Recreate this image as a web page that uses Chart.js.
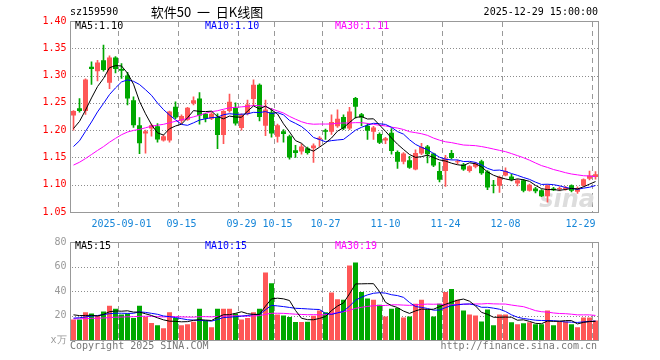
<!DOCTYPE html>
<html>
<head>
<meta charset="utf-8">
<script src="https://cdn.jsdelivr.net/npm/chart.js@4.4.1/dist/chart.umd.min.js"></script>
<style>
  html, body { margin: 0; padding: 0; background: #fff; }
  #wrap { position: relative; width: 660px; height: 360px; }
  #kCanvas { position: absolute; left: 0; top: 0; z-index: 1; }
  #vCanvas { position: absolute; left: 0; top: 232px; z-index: 1; }
  .gridline { position: absolute; z-index: 0; }
</style>
</head>
<body>
<div id="wrap">
  <canvas id="kCanvas" width="660" height="232"></canvas>
  <canvas id="vCanvas" width="660" height="128"></canvas>
</div>
<script>
// 交易日（2025）
const dates = ['08-20','08-21','08-22','08-25','08-26','08-27','08-28','08-29',
  '09-01','09-02','09-03','09-04','09-05','09-08','09-09','09-10','09-11','09-12',
  '09-15','09-16','09-17','09-18','09-19','09-22','09-23','09-24','09-25','09-26','09-29','09-30',
  '10-09','10-10','10-13','10-14','10-15','10-16','10-17','10-20','10-21','10-22','10-23','10-24',
  '10-27','10-28','10-29','10-30','10-31',
  '11-03','11-04','11-05','11-06','11-07','11-10','11-11','11-12','11-13','11-14','11-17','11-18',
  '11-19','11-20','11-21','11-24','11-25','11-26','11-27','11-28',
  '12-01','12-02','12-03','12-04','12-05','12-08','12-09','12-10','12-11','12-12','12-15','12-16',
  '12-17','12-18','12-19','12-22','12-23','12-24','12-25','12-26','12-29'];

// 日期刻度
const xTickDates = ['09-01','09-15','09-29','10-15','10-27','11-10','11-24','12-08','12-29'];
const xTickText  = ['2025-09-01','09-15','09-29','10-15','10-27','11-10','11-24','12-08','12-29'];

const opens = [1.227,1.240,1.235,1.316,1.308,1.328,1.287,1.333,1.312,1.300,
  1.255,1.209,1.194,1.203,1.207,1.181,1.181,1.243,1.217,1.219,
  1.249,1.258,1.230,1.221,1.224,1.191,1.235,1.241,1.204,1.230,
  1.257,1.283,1.208,1.233,1.188,1.198,1.189,1.163,1.161,1.167,
  1.167,1.183,1.200,1.197,1.207,1.224,1.203,1.259,1.229,1.208,
  1.197,1.193,1.181,1.195,1.160,1.142,1.145,1.128,1.157,1.170,
  1.157,1.125,1.125,1.158,1.141,1.137,1.125,1.133,1.143,1.124,
  1.100,1.098,1.117,1.115,1.102,1.108,1.089,1.093,1.090,1.079,
  1.093,1.092,1.092,1.099,1.087,1.098,1.111,1.114];
const highs = [1.236,1.258,1.294,1.325,1.328,1.356,1.336,1.335,1.322,1.306,
  1.261,1.223,1.200,1.211,1.212,1.191,1.235,1.252,1.228,1.242,
  1.261,1.269,1.231,1.232,1.230,1.236,1.266,1.250,1.230,1.255,
  1.292,1.285,1.255,1.240,1.211,1.201,1.191,1.172,1.175,1.169,
  1.175,1.188,1.202,1.228,1.237,1.228,1.242,1.260,1.231,1.212,
  1.207,1.195,1.187,1.203,1.162,1.159,1.152,1.164,1.176,1.172,
  1.158,1.141,1.154,1.163,1.145,1.139,1.135,1.141,1.145,1.126,
  1.108,1.116,1.131,1.119,1.110,1.110,1.101,1.095,1.091,1.100,
  1.095,1.096,1.097,1.100,1.096,1.111,1.125,1.124];
const lows = [1.200,1.233,1.229,1.284,1.290,1.308,1.276,1.305,1.295,1.246,
  1.205,1.157,1.158,1.189,1.178,1.180,1.178,1.221,1.213,1.218,
  1.246,1.211,1.215,1.219,1.166,1.175,1.233,1.209,1.200,1.228,
  1.246,1.217,1.190,1.187,1.178,1.178,1.147,1.150,1.156,1.156,
  1.141,1.170,1.183,1.192,1.205,1.201,1.201,1.222,1.208,1.183,
  1.183,1.175,1.175,1.156,1.130,1.138,1.130,1.127,1.155,1.140,
  1.133,1.105,1.097,1.147,1.138,1.126,1.123,1.131,1.119,1.091,
  1.085,1.086,1.116,1.107,1.098,1.087,1.088,1.085,1.078,1.068,
  1.089,1.089,1.090,1.087,1.084,1.097,1.109,1.110];
const closes = [1.235,1.235,1.293,1.312,1.324,1.310,1.333,1.312,1.309,1.258,
  1.209,1.176,1.198,1.209,1.183,1.189,1.234,1.223,1.226,1.241,
  1.255,1.227,1.221,1.230,1.191,1.235,1.252,1.212,1.228,1.247,
  1.283,1.224,1.238,1.194,1.209,1.193,1.150,1.158,1.170,1.158,
  1.172,1.186,1.197,1.215,1.221,1.203,1.234,1.243,1.223,1.199,
  1.205,1.177,1.185,1.162,1.142,1.157,1.131,1.158,1.169,1.156,
  1.135,1.109,1.148,1.149,1.142,1.128,1.134,1.139,1.121,1.095,
  1.098,1.114,1.125,1.109,1.108,1.089,1.100,1.088,1.079,1.099,
  1.090,1.093,1.095,1.089,1.094,1.110,1.117,1.119];
// 成交量（万手）
const volumes = [16.8,16.8,22.7,21.6,20.0,23.2,28.0,25.6,20.8,21.6,
  17.9,28.0,18.7,13.9,12.0,9.6,22.7,17.9,12.0,12.8,
  14.9,25.6,16.0,10.4,25.6,25.6,25.6,21.6,16.8,17.9,
  22.7,25.6,55.2,46.4,20.8,20.0,18.7,14.7,14.7,14.9,
  19.7,24.0,22.7,38.7,33.3,32.8,60.8,63.2,39.2,33.9,
  32.8,28.8,19.2,25.6,26.1,18.4,19.2,29.6,32.8,24.8,
  19.2,29.6,39.2,41.6,32.8,24.0,20.8,20.0,15.2,24.8,
  12.0,20.8,20.8,14.4,12.8,13.6,14.4,12.8,12.8,24.0,
  12.0,15.2,15.2,12.8,10.4,18.4,18.4,16.0];

// 窗口之前的29个交易日（估计值，仅用于均线起点）
const priorCloses = [1.08,1.09,1.09,1.10,1.10,1.09,1.10,1.11,1.11,1.12,
  1.12,1.11,1.12,1.13,1.14,1.15,1.14,1.15,1.16,1.17,
  1.13,1.12,1.14,1.14,1.155,1.17,1.19,1.20,1.22];
const priorVolumes = [16,18,15,17,19,16,18,17,15,16,18,17,16,19,18,17,16,18,17,17,
  14,16,15,15,16,20,22,21,23];

const MONO = '"DejaVu Sans Mono", monospace';
const RED = '#ff5757';
const GREEN = '#00a800';
const candleColors = closes.map((c, i) => c >= opens[i] ? RED : GREEN);

function movingAvg(prior, values, n) {
  const all = prior.concat(values);
  const k = prior.length;
  return values.map((v, i) => {
    let s = 0;
    for (let j = k + i - n + 1; j <= k + i; j++) s += all[j];
    return s / n;
  });
}

const tickMap = {};
xTickDates.forEach((d, j) => { tickMap[d] = xTickText[j]; });

function text(ctx, str, x, y, font, color, align) {
  ctx.save();
  ctx.font = font;
  ctx.fillStyle = color;
  ctx.textAlign = align || 'left';
  ctx.textBaseline = 'middle';
  ctx.fillText(str, x, y);
  ctx.restore();
}

// 网格线放在画布后面的一层 div 里，位置取自图表的坐标轴
function addLine(x, y, w, h, bg) {
  const wrap = document.getElementById('wrap');
  const el = document.createElement('div');
  el.className = 'gridline';
  el.style.left = x + 'px';
  el.style.top = y + 'px';
  el.style.width = w + 'px';
  el.style.height = h + 'px';
  el.style.background = bg;
  wrap.insertBefore(el, wrap.firstChild);
}

function addGrid(chart, offsetTop) {
  const a = chart.chartArea, ys = chart.scales.y;
  const left = Math.floor(a.left), right = Math.floor(a.right);
  const top = Math.floor(a.top), bottom = Math.floor(a.bottom);
  ys.ticks.forEach(t => {
    const y = Math.round(ys.getPixelForValue(t.value));
    if (y <= top + 1 || y >= bottom - 1) return;
    addLine(left + 2, offsetTop + y, right - left - 2, 1,
      'repeating-linear-gradient(to right, #8c8c8c 0px, #8c8c8c 1px, transparent 1px, transparent 3px)');
  });
  const step = (a.right - a.left) / dates.length;
  dates.forEach((d, i) => {
    if (!tickMap[d]) return;
    const x = Math.floor(a.left + step * i);
    addLine(x, offsetTop + top + 1, 1, bottom - top - 1,
      'repeating-linear-gradient(to bottom, #999999 0px, #999999 5px, transparent 5px, transparent 9px)');
  });
}

// 外框
function drawFrame(chart) {
  const a = chart.chartArea, c = chart.ctx;
  c.save();
  c.strokeStyle = '#999999';
  c.lineWidth = 1;
  c.strokeRect(Math.floor(a.left) + 0.5, Math.floor(a.top) + 0.5,
    Math.round(a.right - a.left), Math.round(a.bottom - a.top));
  c.restore();
}

function maLine(data, color) {
  return { type: 'line', data: data, borderColor: color, borderWidth: 1,
    pointRadius: 0, tension: 0, order: 0 };
}

// K线图
const kChart = new Chart(document.getElementById('kCanvas').getContext('2d'), {
  type: 'bar',
  data: {
    labels: dates,
    datasets: [
      maLine(movingAvg(priorCloses, closes, 5), '#000000'),
      maLine(movingAvg(priorCloses, closes, 10), '#0000ff'),
      maLine(movingAvg(priorCloses, closes, 30), '#ff00ff'),
      {
        data: opens.map((o, i) => [o, closes[i]]),
        backgroundColor: candleColors,
        grouped: false, barPercentage: 5 / 6, categoryPercentage: 1,
        minBarLength: 1, order: 1
      },
      {
        data: lows.map((l, i) => [l, highs[i]]),
        backgroundColor: candleColors,
        grouped: false, barThickness: 1, order: 2
      }
    ]
  },
  options: {
    responsive: false,
    animation: false,
    events: [],
    layout: { padding: { left: 0.5, right: 61.5, top: 21, bottom: 0 } },
    plugins: { legend: { display: false }, tooltip: { enabled: false } },
    scales: {
      x: {
        offset: true,
        grid: { display: false, drawTicks: false },
        border: { display: false },
        ticks: {
          autoSkip: false, maxRotation: 0, align: 'inner', padding: 6,
          color: '#1585d8', font: { family: MONO, size: 10 },
          callback: (v, i) => tickMap[dates[i]] || ''
        },
        afterFit: s => { s.height = 20; }
      },
      y: {
        min: 1.05, max: 1.40,
        grid: { display: false, drawTicks: false },
        border: { display: false },
        ticks: {
          stepSize: 0.05, padding: 4, color: '#ff0000',
          font: { family: MONO, size: 10 },
          callback: v => v.toFixed(2)
        },
        afterFit: s => { s.width = 70; }
      }
    }
  },
  plugins: [{
    id: 'kDecor',
    beforeDatasetsDraw(chart) {
      const c = chart.ctx;
      c.save();
      c.font = 'italic bold 24px "DejaVu Sans", sans-serif';
      c.fillStyle = '#dddddd';
      c.textAlign = 'right';
      c.textBaseline = 'alphabetic';
      c.fillText('sina', 595, 207);
      c.restore();
    },
    afterDraw(chart) {
      drawFrame(chart);
      const c = chart.ctx;
      const f = '10px ' + MONO;
      text(c, 'sz159590', 70, 12.5, f, '#000000');
      text(c, '软件50  一  日K线图', 207, 12.5, '13px "Noto Sans CJK SC"', '#000000', 'center');
      text(c, '2025-12-29 15:00:00', 598, 12.5, f, '#000000', 'right');
      text(c, 'MA5:1.10', 75, 26.5, f, '#000000');
      text(c, 'MA10:1.10', 205, 26.5, f, '#0000ff');
      text(c, 'MA30:1.11', 335, 26.5, f, '#ff00ff');
    }
  }]
});
addGrid(kChart, 0);

// 成交量
const vChart = new Chart(document.getElementById('vCanvas').getContext('2d'), {
  type: 'bar',
  data: {
    labels: dates,
    datasets: [
      maLine(movingAvg(priorVolumes, volumes, 5), '#000000'),
      maLine(movingAvg(priorVolumes, volumes, 10), '#0000ff'),
      maLine(movingAvg(priorVolumes, volumes, 30), '#ff00ff'),
      {
        data: volumes,
        backgroundColor: candleColors,
        barPercentage: 5 / 6, categoryPercentage: 1, order: 1
      }
    ]
  },
  options: {
    responsive: false,
    animation: false,
    events: [],
    layout: { padding: { left: 0.5, right: 61.5, top: 8, bottom: 0 } },
    plugins: { legend: { display: false }, tooltip: { enabled: false } },
    scales: {
      x: {
        offset: true,
        grid: { display: false, drawTicks: false },
        border: { display: false },
        ticks: { display: false },
        afterFit: s => { s.height = 20; }
      },
      y: {
        min: 0, max: 80,
        grid: { display: false, drawTicks: false },
        border: { display: false },
        ticks: {
          stepSize: 20, padding: 4, color: '#999999',
          font: { family: MONO, size: 10 },
          callback: v => v === 0 ? 'x万' : v
        },
        afterFit: s => { s.width = 70; }
      }
    }
  },
  plugins: [{
    id: 'vDecor',
    afterDraw(chart) {
      drawFrame(chart);
      const c = chart.ctx;
      const f = '10px ' + MONO;
      text(c, 'MA5:15', 75, 14, f, '#000000');
      text(c, 'MA10:15', 205, 14, f, '#0000ff');
      text(c, 'MA30:19', 335, 14, f, '#ff00ff');
      text(c, 'Copyright 2025 SINA.COM', 70, 114, f, '#777777');
      text(c, 'http://finance.sina.com.cn', 597, 114, f, '#777777', 'right');
    }
  }]
});
addGrid(vChart, 232);
</script>
</body>
</html>
